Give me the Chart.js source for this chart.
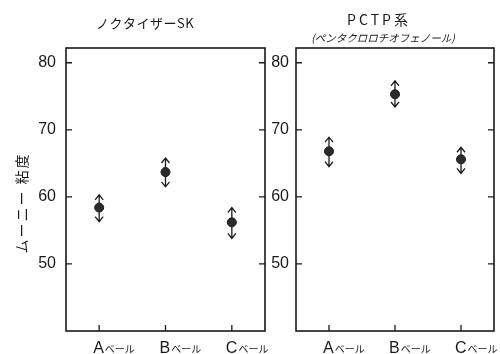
<!DOCTYPE html>
<html>
<head>
<meta charset="utf-8">
<script src="https://cdn.jsdelivr.net/npm/chart.js@4.4.1/dist/chart.umd.min.js"></script>
<style>
  html, body { margin: 0; padding: 0; background: #fff; }
  #wrap { position: relative; width: 500px; height: 354px; }
  #wrap canvas { position: absolute; left: 0; top: 0; }
</style>
</head>
<body>
<div id="wrap">
  <canvas id="leftChart" width="500" height="354"></canvas>
  <canvas id="rightChart" width="500" height="354"></canvas>
</div>
<script>
// data (Mooney viscosity per bale)
const bales = ['Aベール', 'Bベール', 'Cベール'];
const yTickValues = [50, 60, 70, 80];

const noctMean = [58.4, 63.7, 56.2];
const noctHigh = [60.3, 65.8, 58.4];
const noctLow = [56.3, 61.5, 53.8];

const pctpMean = [66.8, 75.3, 65.6];
const pctpHigh = [68.9, 77.3, 67.4];
const pctpLow = [64.5, 73.4, 63.5];

const INK = '#1a1a1a';
const JP = '"Noto Sans CJK JP", "Noto Sans", sans-serif';
const LAT = '"Liberation Sans", Arial, sans-serif';

function arrowHead(ctx, x, y, dir) {
  ctx.moveTo(x - 4, y + dir * 5);
  ctx.lineTo(x, y);
  ctx.lineTo(x + 4, y + dir * 5);
}

const decor = {
  id: 'decor',
  beforeDatasetsDraw(chart, args, opts) {
    const ctx = chart.ctx;
    const x = chart.scales.x, y = chart.scales.y;
    ctx.save();
    ctx.strokeStyle = INK;
    ctx.lineWidth = 1.3;
    ctx.beginPath();
    opts.high.forEach((h, i) => {
      const px = x.getPixelForValue(i);
      const top = y.getPixelForValue(h);
      const bot = y.getPixelForValue(opts.low[i]);
      ctx.moveTo(px, top);
      ctx.lineTo(px, bot);
      arrowHead(ctx, px, top, 1);
      arrowHead(ctx, px, bot, -1);
    });
    ctx.stroke();
    ctx.restore();
  },
  afterDraw(chart, args, opts) {
    const ctx = chart.ctx, a = chart.chartArea;
    const x = chart.scales.x, y = chart.scales.y;
    ctx.save();
    ctx.strokeStyle = INK;
    ctx.lineWidth = 1.6;
    ctx.strokeRect(a.left, a.top, a.right - a.left, a.bottom - a.top);

    // inward tick marks
    ctx.lineWidth = 1.3;
    ctx.beginPath();
    y.ticks.forEach(t => {
      const py = y.getPixelForValue(t.value);
      ctx.moveTo(a.left, py); ctx.lineTo(a.left + 6, py);
      ctx.moveTo(a.right, py); ctx.lineTo(a.right - 6, py);
    });
    chart.data.labels.forEach((l, i) => {
      const px = x.getPixelForValue(i);
      ctx.moveTo(px, a.bottom); ctx.lineTo(px, a.bottom - 6);
    });
    ctx.stroke();

    // category labels: big letter + small ベール
    ctx.fillStyle = INK;
    ctx.textBaseline = 'alphabetic';
    ctx.textAlign = 'left';
    chart.data.labels.forEach((l, i) => {
      const px = x.getPixelForValue(i) - 6;
      ctx.font = '16px ' + LAT;
      ctx.fillText(l[0], px, 353);
      const w = ctx.measureText(l[0]).width;
      ctx.font = '10px ' + JP;
      ctx.fillText(l.slice(1), px + w + 1, 353);
    });

    // titles
    ctx.textAlign = 'center';
    (opts.titles || []).forEach(t => {
      ctx.save();
      ctx.font = t.font;
      ctx.letterSpacing = t.spacing || '0px';
      ctx.translate(t.x, t.y);
      if (t.rotate) ctx.rotate(-Math.PI / 2);
      ctx.fillText(t.text, 0, 0);
      ctx.restore();
    });
    ctx.restore();
  }
};

function makePanel(id, mean, high, low, padding, yWidth, tickPad, titles) {
  return new Chart(document.getElementById(id), {
    type: 'line',
    data: {
      labels: bales,
      datasets: [{
        data: mean,
        showLine: false,
        pointRadius: 4.5,
        pointBackgroundColor: '#2b2b2b',
        pointBorderColor: INK,
        pointBorderWidth: 1
      }]
    },
    options: {
      responsive: false,
      animation: false,
      layout: { padding: padding },
      plugins: {
        legend: { display: false },
        tooltip: { enabled: false },
        decor: { high: high, low: low, titles: titles }
      },
      scales: {
        x: {
          offset: true,
          grid: { display: false, drawTicks: false },
          border: { display: false },
          ticks: { display: false },
          afterFit: s => { s.height = 23; }
        },
        y: {
          min: 40,
          max: 82.2,
          grid: { display: false, drawTicks: false },
          border: { display: false },
          afterBuildTicks: s => { s.ticks = yTickValues.map(v => ({ value: v })); },
          ticks: { padding: tickPad, color: INK, font: { family: LAT, size: 16 } },
          afterFit: s => { s.width = yWidth; }
        }
      }
    },
    plugins: [decor]
  });
}

makePanel('leftChart', noctMean, noctHigh, noctLow,
  { top: 48, left: 0, right: 235, bottom: 0 }, 66, 10, [
    { text: 'ノクタイザーSK', x: 145, y: 28, font: '13px ' + JP, spacing: '0.5px' },
    { text: 'ムーニー 粘度', x: 27, y: 203, font: '14px ' + JP, spacing: '2px', rotate: true }
  ]);

makePanel('rightChart', pctpMean, pctpHigh, pctpLow,
  { top: 48, left: 266, right: 6, bottom: 0 }, 30, 7, [
    { text: 'PCTP系', x: 379, y: 25, font: '14px ' + JP, spacing: '3px' },
    { text: '(ペンタクロロチオフェノール)', x: 383, y: 42, font: 'italic 10.5px ' + JP, spacing: '0px' }
  ]);
</script>
</body>
</html>
